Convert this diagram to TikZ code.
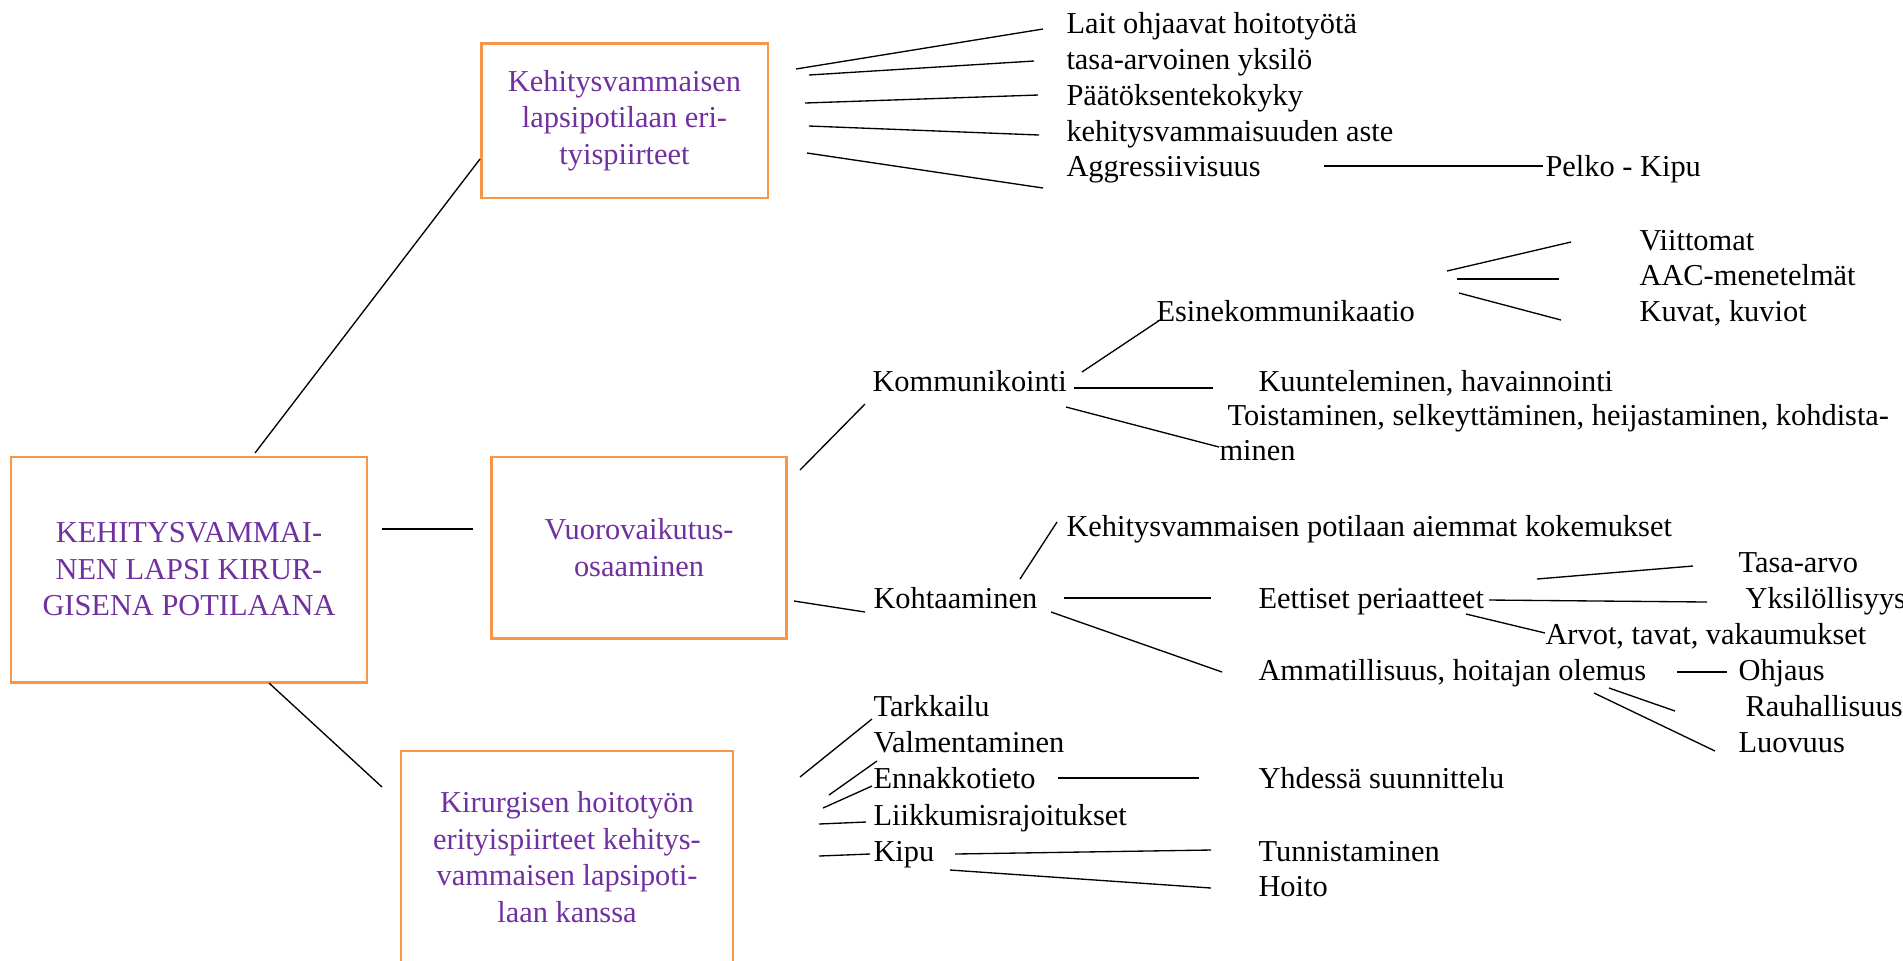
\documentclass[tikz,border=0pt]{standalone}
\usepackage{fontspec}
\setmainfont{Liberation Serif}
\usepackage{tikz}
\definecolor{vpurple}{RGB}{112,48,160}
\definecolor{vorange}{RGB}{247,150,70}

\begin{document}
\begin{tikzpicture}[x=0.375pt, y=-0.375pt, every node/.style={font=\fontsize{11.4}{13.7}\selectfont}]
\tikzstyle{box}=[draw=vorange, line width=1.1pt, text=vpurple, align=center, inner sep=0pt]
\tikzstyle{item}=[anchor=base west, inner sep=0pt]
\tikzstyle{conn}=[line width=0.5pt]
\useasboundingbox (0,0) rectangle (1903,960);

\node[box, minimum width=133.5pt, minimum height=84.4pt] (KLK) at (189,569.5) {KEHITYSVAMMAI-\\NEN LAPSI KIRUR-\\GISENA POTILAANA};
\node[box, minimum width=107.6pt, minimum height=58.1pt] (KLE) at (624.5,120.5) {Kehitysvammaisen\\lapsipotilaan eri-\\tyispiirteet};
\node[box, minimum width=110.3pt, minimum height=67.9pt] (VO) at (639,547.5) {Vuorovaikutus-\\osaaminen};
\node[box, minimum width=124.5pt, minimum height=79.5pt] (KHE) at (567,857) {Kirurgisen hoitotyön\\erityispiirteet kehitys-\\vammaisen lapsipoti-\\laan kanssa};

\node[item] (LAIT)  at (1066,33)  {Lait ohjaavat hoitotyötä};
\node[item] (TASA)  at (1066,69)  {tasa-arvoinen yksilö};
\node[item] (PAAT)  at (1066,105) {Päätöksentekokyky};
\node[item] (ASTE)  at (1066,141) {kehitysvammaisuuden aste};
\node[item] (AGGR)  at (1066,176) {Aggressiivisuus};
\node[item] (PELKO) at (1545,176) {Pelko - Kipu};
\node[item] (VIIT)  at (1639,250) {Viittomat};
\node[item] (AAC)   at (1639,285) {AAC-menetelmät};
\node[item] (KUVA)  at (1639,321) {Kuvat, kuviot};
\node[item] (ESIN)  at (1156,321) {Esinekommunikaatio};
\node[item] (KOM)   at (872,391)  {Kommunikointi};
\node[item] (KUUN)  at (1258,391) {Kuunteleminen, havainnointi};
\node[item, align=left, font=\fontsize{11.4}{13.1}\selectfont] (TOIS) at (1219,460) {\hspace*{3pt}Toistaminen, selkeyttäminen, heijastaminen, kohdista-\\minen};
\node[item] (KPOT)  at (1066,536) {Kehitysvammaisen potilaan aiemmat kokemukset};
\node[item] (KOHT)  at (873,608)  {Kohtaaminen};
\node[item] (EETT)  at (1258,608) {Eettiset periaatteet};
\node[item] (AMM)   at (1258,680) {Ammatillisuus, hoitajan olemus};
\node[item] (TASAA) at (1738,572) {Tasa-arvo};
\node[item] (YKS)   at (1745,608) {Yksilöllisyys};
\node[item] (ARVO)  at (1545,644) {Arvot, tavat, vakaumukset};
\node[item] (OHJ)   at (1738,680) {Ohjaus};
\node[item] (RAUH)  at (1745,716) {Rauhallisuus};
\node[item] (LUOV)  at (1738,752) {Luovuus};
\node[item] (TARK)  at (873,716)  {Tarkkailu};
\node[item] (VALM)  at (873,752)  {Valmentaminen};
\node[item] (ENN)   at (873,788)  {Ennakkotieto};
\node[item] (LIIK)  at (873,825)  {Liikkumisrajoitukset};
\node[item] (KIPU)  at (873,861)  {Kipu};
\node[item] (YHD)   at (1258,788) {Yhdessä suunnittelu};
\node[item] (TUNN)  at (1258,861) {Tunnistaminen};
\node[item] (HOI)   at (1258,896) {Hoito};

\coordinate (kle1) at (255,453);    \coordinate (kle2) at (480,159);
\coordinate (vo1) at (382,529);     \coordinate (vo2) at (473,529);
\coordinate (khe1) at (269,683);    \coordinate (khe2) at (382,787);
\coordinate (lait1) at (796,69);    \coordinate (lait2) at (1043,29);
\coordinate (tasa1) at (809,75);    \coordinate (tasa2) at (1034,61);
\coordinate (paat1) at (805,103);   \coordinate (paat2) at (1038,95);
\coordinate (aste1) at (809,126);   \coordinate (aste2) at (1039,135);
\coordinate (aggr1) at (807,153);   \coordinate (aggr2) at (1043,188);
\coordinate (pelko1) at (1324,166); \coordinate (pelko2) at (1543,166);
\coordinate (kom1) at (800,470);    \coordinate (kom2) at (865,404);
\coordinate (koht1) at (794,601);   \coordinate (koht2) at (865,612);
\coordinate (esin1) at (1082,372);  \coordinate (esin2) at (1160,320);
\coordinate (kuun1) at (1074,388);  \coordinate (kuun2) at (1213,388);
\coordinate (tois1) at (1066,407);  \coordinate (tois2) at (1219,447);
\coordinate (viit1) at (1447,271);  \coordinate (viit2) at (1571,242);
\coordinate (aac1) at (1457,279);   \coordinate (aac2) at (1559,279);
\coordinate (kuva1) at (1459,293);  \coordinate (kuva2) at (1561,320);
\coordinate (kpot1) at (1020,579);  \coordinate (kpot2) at (1057,522);
\coordinate (eett1) at (1064,598);  \coordinate (eett2) at (1211,598);
\coordinate (amm1) at (1051,612);   \coordinate (amm2) at (1222,672);
\coordinate (tasaa1) at (1537,579); \coordinate (tasaa2) at (1693,566);
\coordinate (yks1) at (1489,600);   \coordinate (yks2) at (1707,602);
\coordinate (arvo1) at (1466,614);  \coordinate (arvo2) at (1545,633);
\coordinate (ohj1) at (1677,672);   \coordinate (ohj2) at (1727,672);
\coordinate (rauh1) at (1609,688);  \coordinate (rauh2) at (1675,711);
\coordinate (luov1) at (1594,693);  \coordinate (luov2) at (1715,751);
\coordinate (tark1) at (800,777);   \coordinate (tark2) at (872,719);
\coordinate (valm1) at (829,795);   \coordinate (valm2) at (877,761);
\coordinate (enn1) at (823,808);    \coordinate (enn2) at (872,786);
\coordinate (liik1) at (819,824);   \coordinate (liik2) at (866,822);
\coordinate (kipu1) at (819,856);   \coordinate (kipu2) at (870,854);
\coordinate (yhd1) at (1058,778);   \coordinate (yhd2) at (1199,778);
\coordinate (tunn1) at (955,854);   \coordinate (tunn2) at (1211,850);
\coordinate (hoi1) at (950,870);    \coordinate (hoi2) at (1211,888);

\path[conn]
(kle1) edge (kle2)   (vo1) edge (vo2)     (khe1) edge (khe2)
(lait1) edge (lait2) (tasa1) edge (tasa2) (paat1) edge (paat2)
(aste1) edge (aste2) (aggr1) edge (aggr2) (pelko1) edge (pelko2)
(kom1) edge (kom2)   (koht1) edge (koht2)
(esin1) edge (esin2) (kuun1) edge (kuun2) (tois1) edge (tois2)
(viit1) edge (viit2) (aac1) edge (aac2)   (kuva1) edge (kuva2)
(kpot1) edge (kpot2) (eett1) edge (eett2) (amm1) edge (amm2)
(tasaa1) edge (tasaa2) (yks1) edge (yks2) (arvo1) edge (arvo2)
(ohj1) edge (ohj2)   (rauh1) edge (rauh2) (luov1) edge (luov2)
(tark1) edge (tark2) (valm1) edge (valm2) (enn1) edge (enn2)
(liik1) edge (liik2) (kipu1) edge (kipu2)
(yhd1) edge (yhd2)   (tunn1) edge (tunn2) (hoi1) edge (hoi2);
\end{tikzpicture}
\end{document}
